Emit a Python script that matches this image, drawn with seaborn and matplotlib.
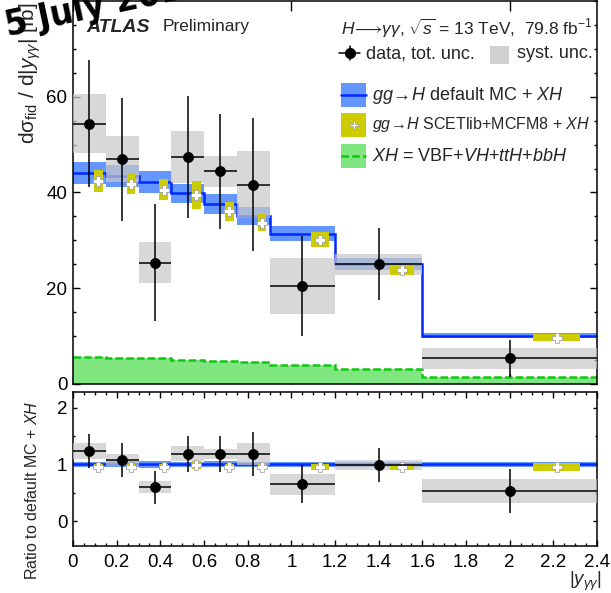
import numpy as np
import pandas as pd
import matplotlib
matplotlib.use("Agg")
import matplotlib.pyplot as plt
from matplotlib.lines import Line2D
from matplotlib.patches import Rectangle
from matplotlib.ticker import MultipleLocator, FixedLocator, NullLocator
import seaborn as sns

# |y_gg| bin edges and per-bin cross sections [fb]
edges = [0.0, 0.15, 0.30, 0.45, 0.60, 0.75, 0.90, 1.20, 1.60, 2.40]
data_xs = [54.4, 46.9, 25.3, 47.4, 44.4, 41.6, 20.5, 25.0, 5.35]
data_tot = [13.3, 12.8, 12.2, 12.7, 12.0, 13.9, 10.4, 7.5, 3.9]
data_syst = [6.1, 4.8, 4.3, 5.4, 3.2, 7.0, 5.8, 2.2, 2.2]
default_mc = [44.1, 43.4, 42.2, 39.8, 37.6, 35.1, 31.4, 25.1, 10.1]
default_unc = [2.3, 2.3, 2.3, 2.0, 2.0, 1.8, 1.6, 1.3, 0.5]
scetlib = [42.5, 41.8, 40.6, 39.4, 36.1, 33.7, 30.1, 23.8, 9.7]
scetlib_unc = [2.3, 2.2, 2.2, 2.9, 2.0, 1.75, 1.55, 1.1, 0.75]
xh = [5.6, 5.5, 5.35, 5.1, 4.9, 4.5, 4.0, 3.1, 1.4]
ratio_ticklabels = ["0", "0.2", "0.4", "0.6", "0.8", "1", "1.2", "1.4", "1.6",
                    "1.8", "2", "2.2", "2.4"]

sns.set_theme(style="ticks")
plt.rcParams["font.family"] = ["Liberation Sans", "DejaVu Sans"]
plt.rcParams["mathtext.fontset"] = "custom"
plt.rcParams["mathtext.rm"] = "Liberation Sans"
plt.rcParams["mathtext.it"] = "Liberation Sans:italic"
plt.rcParams["mathtext.bf"] = "Liberation Sans:bold"

BLUE_BAND = "#6496ff"
BLUE = "#0028ff"
GREEN_FILL = "#80e680"
GREEN = "#10c810"
YELLOW = "#cccc00"
GREY = "#c8c8c8"

W, H = 611, 593
fig = plt.figure(figsize=(W / 100, H / 100), dpi=100)


def fx(px):
    return px / W


def fy(py):
    return 1 - py / H


ax1 = fig.add_axes([fx(73), fy(384), 524 / W, 383 / H])
ax2 = fig.add_axes([fx(73), fy(546), 524 / W, 154 / H])

lo = np.array(edges[:-1])
hi = np.array(edges[1:])
width = hi - lo
centers = (lo + hi) / 2
scet_x = lo + 0.77 * width

dat = np.array(data_xs)
tot = np.array(data_tot)
syst = np.array(data_syst)
mc = np.array(default_mc)
mcu = np.array(default_unc)
sc = np.array(scetlib)
scu = np.array(scetlib_unc)
xhv = np.array(xh)

df = pd.DataFrame({"x": centers, "data": dat, "ratio": dat / mc})
ds = pd.DataFrame({"x": scet_x, "scet": sc, "ratio": sc / mc})


def draw_panel(ax, mc_v, mc_u, d_v, d_tot, d_syst, s_v, s_u, xh_v=None):
    ax.stairs(mc_v + mc_u, edges, baseline=mc_v - mc_u, fill=True,
              color=BLUE_BAND, lw=0, zorder=1)
    ax.stairs(mc_v, edges, baseline=None, color=BLUE, lw=1.8, zorder=1.2)
    if xh_v is not None:
        ax.stairs(xh_v, edges, baseline=0, fill=True, color=GREEN_FILL,
                  lw=0, zorder=1.1)
        ax.stairs(xh_v, edges, baseline=None, color=GREEN, lw=1.8,
                  ls=(0, (3, 1.3)), zorder=1.3)
    ax.bar(centers, 2 * d_syst, bottom=d_v - d_syst, width=width,
           color=GREY, alpha=0.7, lw=0, zorder=3)
    ax.bar(scet_x, 2 * s_u, bottom=s_v - s_u, width=0.27 * width,
           color=YELLOW, lw=0, zorder=4)
    ax.errorbar(centers, d_v, xerr=width / 2, yerr=d_tot, fmt="none",
                ecolor="black", elinewidth=1.1, capsize=0, zorder=6)


# upper panel: cross sections
draw_panel(ax1, mc, mcu, dat, tot, syst, sc, scu, xh_v=xhv)
sns.scatterplot(data=ds, x="x", y="scet", marker="P", s=45, color="white",
                edgecolor="#999999", linewidth=0.5, zorder=5, ax=ax1, legend=False)
sns.scatterplot(data=df, x="x", y="data", s=52, color="black",
                edgecolor="black", zorder=7, ax=ax1, legend=False)

# lower panel: ratio to default MC + XH
draw_panel(ax2, mc / mc, mcu / mc, dat / mc, tot / mc, syst / mc, sc / mc, scu / mc)
sns.scatterplot(data=ds, x="x", y="ratio", marker="P", s=45, color="white",
                edgecolor="#999999", linewidth=0.5, zorder=5, ax=ax2, legend=False)
sns.scatterplot(data=df, x="x", y="ratio", s=52, color="black",
                edgecolor="black", zorder=7, ax=ax2, legend=False)

for ax in (ax1, ax2):
    ax.set_xlim(0, 2.4)
    ax.set_xlabel("")
    ax.set_ylabel("")
    for s in ax.spines.values():
        s.set_linewidth(1.1)
        s.set_color("black")
    ax.tick_params(which="both", direction="in", top=True, right=True,
                   colors="black", labelsize=13.5, width=1.0)

ax1.set_ylim(0, 80)
ax1.xaxis.set_major_locator(FixedLocator([0, 1, 2]))
ax1.xaxis.set_minor_locator(NullLocator())
ax1.yaxis.set_major_locator(FixedLocator([0, 20, 40, 60]))
ax1.yaxis.set_minor_locator(MultipleLocator(5))
ax1.tick_params(axis="x", which="major", length=7, labelbottom=False)
ax1.tick_params(axis="y", which="major", length=5, pad=4)
ax1.tick_params(axis="y", which="minor", length=2.5)

ax2.set_ylim(-0.44, 2.28)
ax2.xaxis.set_major_locator(FixedLocator(np.arange(13) * 0.2))
ax2.xaxis.set_minor_locator(MultipleLocator(0.05))
ax2.yaxis.set_major_locator(MultipleLocator(1))
ax2.yaxis.set_minor_locator(MultipleLocator(0.5))
ax2.tick_params(axis="x", which="major", length=4.5, pad=6)
ax2.tick_params(axis="x", which="minor", length=2.3)
ax2.tick_params(axis="y", which="major", length=3, pad=4)
ax2.tick_params(axis="y", which="minor", length=1.6)
ax2.set_xticklabels(ratio_ticklabels)

# axis titles
fig.text(fx(30), fy(3), r"d$\mathrm{\sigma}_{\mathrm{fid}}$ / d|$y_{\gamma\gamma}$| [fb]",
         rotation=90, ha="center", va="top", fontsize=15)
fig.text(fx(32), fy(490), r"Ratio to default MC + $XH$", rotation=90,
         ha="center", va="center", fontsize=11.5)
fig.text(fx(585), fy(570), r"$|y_{\gamma\gamma}|$", ha="center", va="top",
         fontsize=13.5)

# labels and legend
fig.text(fx(86), fy(27), "ATLAS", fontsize=14, fontweight="bold",
         fontstyle="italic", va="center")
fig.text(fx(163), fy(27), "Preliminary", fontsize=12.5, va="center")
fig.text(fx(341), fy(28), r"$H\!\longrightarrow\!\gamma\gamma$, $\sqrt{s}$ = 13 TeV,  79.8 fb$^{-1}$",
         fontsize=12.5, va="center")

fig.add_artist(Line2D([fx(339), fx(360)], [fy(53), fy(53)], color="black", lw=1.1,
                      transform=fig.transFigure))
fig.add_artist(Line2D([fx(350), fx(350)], [fy(46), fy(60)], color="black", lw=1.1,
                      transform=fig.transFigure))
fig.add_artist(Line2D([fx(350)], [fy(53)], marker="o", ms=7, color="black",
                      transform=fig.transFigure))
fig.text(fx(366), fy(54), "data, tot. unc.", fontsize=13, va="center")
fig.add_artist(Rectangle((fx(490), fy(64)), 19 / W, 18 / H, color=GREY, alpha=0.85,
                         lw=0, transform=fig.transFigure))
fig.text(fx(517), fy(54), "syst. unc.", fontsize=13, va="center")

fig.add_artist(Rectangle((fx(341), fy(107)), 25 / W, 24 / H, color=BLUE_BAND,
                         lw=0, transform=fig.transFigure))
fig.add_artist(Line2D([fx(341), fx(366)], [fy(95), fy(95)], color=BLUE, lw=1.8,
                      transform=fig.transFigure))
fig.text(fx(372), fy(95), r"$gg\!\rightarrow\!H$ default MC + $XH$", fontsize=13,
         va="center")

fig.add_artist(Rectangle((fx(341), fy(137)), 25 / W, 24 / H, color=YELLOW,
                         lw=0, transform=fig.transFigure))
fig.add_artist(Line2D([fx(353.5)], [fy(125)], marker="P", ms=6, mfc="white",
                      mec="#999999", mew=0.5, transform=fig.transFigure))
fig.text(fx(372), fy(125), r"$gg\!\rightarrow\!H$ SCETlib+MCFM8 + $XH$", fontsize=11.5,
         va="center")

fig.add_artist(Rectangle((fx(341), fy(168)), 25 / W, 24 / H, color=GREEN_FILL,
                         lw=0, transform=fig.transFigure))
fig.add_artist(Line2D([fx(341), fx(366)], [fy(156), fy(156)], color=GREEN, lw=1.8,
                      ls=(0, (3, 1.3)), transform=fig.transFigure))
fig.text(fx(372), fy(156), r"$XH$ = VBF+$VH$+$ttH$+$bbH$", fontsize=13, va="center")

# date stamp
fig.text(fx(8), fy(36), "5 July 2018", rotation=12, rotation_mode="anchor",
         fontsize=26, fontweight="bold", fontstretch="condensed",
         family="DejaVu Sans", ha="left", va="baseline", color="black", zorder=20)

fig.savefig("out.png", dpi=100)
